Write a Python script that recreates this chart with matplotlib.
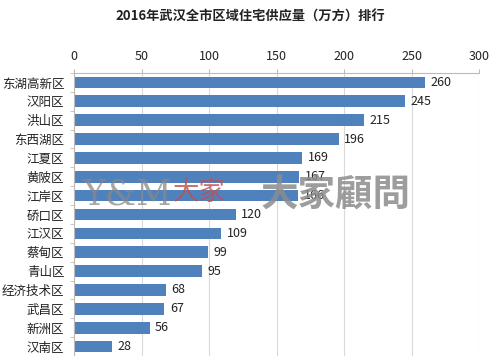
import numpy as np
import matplotlib.pyplot as plt

plt.rcParams['font.family'] = ['Noto Sans CJK SC', 'DejaVu Sans']

districts = ['东湖高新区', '汉阳区', '洪山区', '东西湖区', '江夏区', '黄陂区', '江岸区', '硚口区',
             '江汉区', '蔡甸区', '青山区', '经济技术区', '武昌区', '新洲区', '汉南区']
supply = [260, 245, 215, 196, 169, 167, 166, 120, 109, 99, 95, 68, 67, 56, 28]
xticks = [0, 50, 100, 150, 200, 250, 300]

fig = plt.figure(figsize=(5, 3.56), dpi=100)
ax = fig.add_axes([0.148, 0.0, 0.81, 0.795])

y = np.arange(len(districts))
ax.barh(y, supply, height=0.62, color='#4F81BD', zorder=2)
for yi, v in zip(y, supply):
    ax.text(v + 4, yi, str(v), va='center', ha='left', fontsize=9, color='#222222', zorder=4)

ax.set_xlim(0, 300)
ax.set_ylim(len(districts) - 0.5, -0.5)
ax.set_xticks(xticks)
ax.xaxis.tick_top()
ax.tick_params(axis='x', length=3, color='#bbbbbb', labelsize=9, labelcolor='#222222', pad=4)
ax.set_yticks(y)
ax.set_yticklabels(districts, fontsize=9, color='#222222')
ax.tick_params(axis='y', length=0, pad=7)
ax.set_yticks(np.arange(len(districts) + 1) - 0.5, minor=True)
ax.tick_params(axis='y', which='minor', length=3, color='#bbbbbb')
ax.grid(axis='x', color='#d9d9d9', linewidth=0.8, zorder=0)
for s in ['right', 'bottom']:
    ax.spines[s].set_visible(False)
ax.spines['top'].set_color('#bbbbbb')
ax.spines['left'].set_color('#bbbbbb')

fig.text(0.5, 0.952, '2016年武汉全市区域住宅供应量（万方）排行', ha='center', va='center',
         fontsize=9.5, fontweight='bold', color='#222222')

# watermark
fig.text(0.165, 0.455, 'Y&M', fontsize=25, family='DejaVu Serif', color='#888888', alpha=0.75,
         va='center', ha='left', zorder=5)
fig.text(0.345, 0.46, '大家', fontsize=19, family=['Noto Sans CJK SC'], color='#c0504d', alpha=0.8,
         style='italic', va='center', ha='left', zorder=5)
fig.text(0.522, 0.455, '大家顧問', fontsize=27, fontweight='bold', family=['Noto Sans CJK TC'],
         color='#8c8c8c', alpha=0.85, va='center', ha='left', zorder=5)

fig.savefig('out.png', dpi=100)
